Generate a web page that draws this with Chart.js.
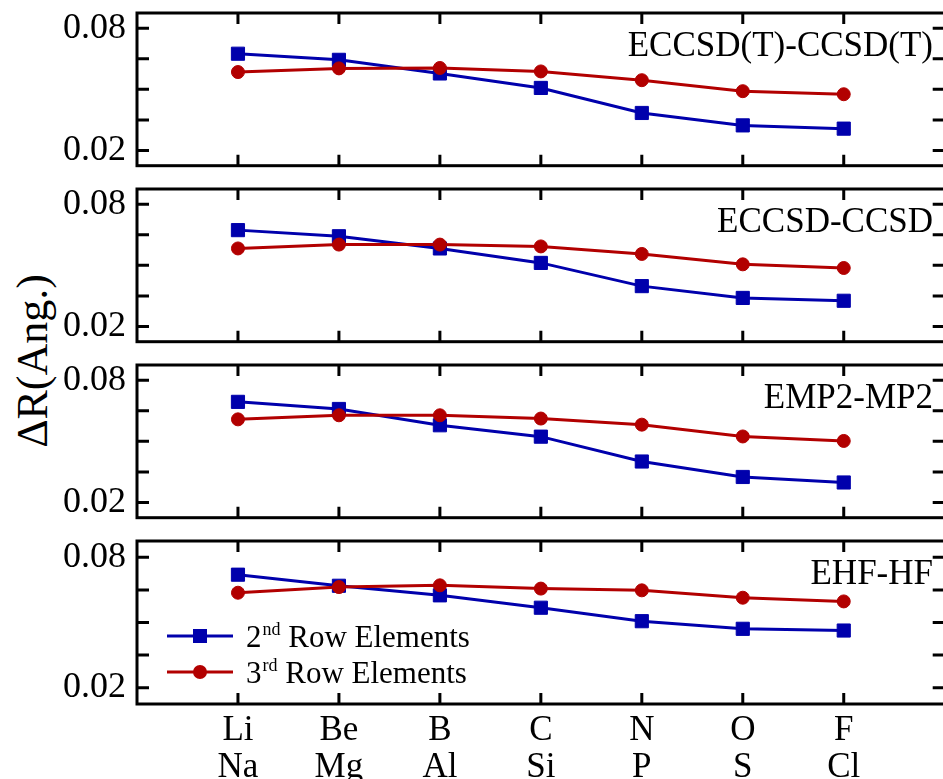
<!DOCTYPE html>
<html>
<head>
<meta charset="utf-8">
<script src="https://cdn.jsdelivr.net/npm/chart.js@4/dist/chart.umd.min.js"></script>
<style>
  html, body { margin: 0; padding: 0; background: #fff; overflow: hidden; width: 943px; height: 779px; }
  canvas { position: absolute; left: 0; }
  #ylab {
    position: absolute; left: 33px; top: 361px;
    transform: translate(-50%, -50%) rotate(-90deg);
    font: 44px 'Liberation Serif', 'Times New Roman', serif;
    white-space: nowrap; line-height: 1;
  }
</style>
</head>
<body>
<div id="ylab">ΔR(Ang.)</div>
<canvas id="p0" width="955" height="176" style="top:0px"></canvas>
<canvas id="p1" width="955" height="176" style="top:176px"></canvas>
<canvas id="p2" width="955" height="176" style="top:352px"></canvas>
<canvas id="p3" width="955" height="251" style="top:528px"></canvas>
<script>
// elements: 2nd row on top line of the tick label, 3rd row below
const row2Elements = ['Li', 'Be', 'B', 'C', 'N', 'O', 'F'];
const row3Elements = ['Na', 'Mg', 'Al', 'Si', 'P', 'S', 'Cl'];
const panelTitles = ['ECCSD(T)-CCSD(T)', 'ECCSD-CCSD', 'EMP2-MP2', 'EHF-HF'];
const yTicks = [0.02, 0.035, 0.05, 0.065, 0.08];

// delta R (Ang.) per method
const eccsdtRow2 = [0.0675, 0.0645, 0.0578, 0.0507, 0.0384, 0.0323, 0.0307];
const eccsdtRow3 = [0.0585, 0.0603, 0.0605, 0.0588, 0.0545, 0.0491, 0.0476];
const eccsdRow2 = [0.0673, 0.0643, 0.0583, 0.0512, 0.0398, 0.0340, 0.0326];
const eccsdRow3 = [0.0583, 0.0602, 0.0602, 0.0593, 0.0556, 0.0505, 0.0487];
const emp2Row2 = [0.0694, 0.0659, 0.0579, 0.0523, 0.0401, 0.0325, 0.0298];
const emp2Row3 = [0.0608, 0.0628, 0.0628, 0.0612, 0.0582, 0.0524, 0.0502];
const ehfRow2 = [0.0720, 0.0669, 0.0625, 0.0568, 0.0506, 0.0471, 0.0463];
const ehfRow3 = [0.0637, 0.0663, 0.0671, 0.0656, 0.0648, 0.0614, 0.0597];

const legendLabels = [['2', 'nd', ' Row Elements'], ['3', 'rd', ' Row Elements']];

const serif = "'Liberation Serif', 'Times New Roman', serif";
const blue = 'rgb(0, 0, 172)';
const red = 'rgb(178, 0, 0)';

// inward ticks, box, panel title and (last panel) legend
const framePlugin = {
    id: 'frame',
    afterDatasetsDraw(chart, args, opts) {
        const ctx = chart.ctx;
        const a = chart.chartArea;
        const x = chart.scales.x;
        const y = chart.scales.y;
        ctx.save();
        ctx.strokeStyle = '#000';
        ctx.lineWidth = 3;
        ctx.beginPath();
        yTicks.forEach(v => {
            const py = y.getPixelForValue(v);
            ctx.moveTo(a.left, py);
            ctx.lineTo(a.left + 12, py);
            ctx.moveTo(a.right, py);
            ctx.lineTo(a.right - 12, py);
        });
        row2Elements.forEach((e, i) => {
            const px = x.getPixelForValue(i + 1);
            ctx.moveTo(px, a.top);
            ctx.lineTo(px, a.top + 11);
            ctx.moveTo(px, a.bottom);
            ctx.lineTo(px, a.bottom - 11);
        });
        ctx.stroke();
        ctx.strokeRect(a.left, a.top, a.right - a.left, a.bottom - a.top);

        ctx.fillStyle = '#000';
        ctx.font = '35px ' + serif;
        ctx.textAlign = 'right';
        ctx.textBaseline = 'alphabetic';
        ctx.fillText(opts.title, 933, a.top + 43);

        if (opts.legend) {
            const rows = [
                {color: blue, style: 'rect', cy: a.top + 95},
                {color: red, style: 'circle', cy: a.top + 131}
            ];
            ctx.textAlign = 'left';
            rows.forEach((r, i) => {
                ctx.strokeStyle = r.color;
                ctx.fillStyle = r.color;
                ctx.lineWidth = 3;
                ctx.beginPath();
                ctx.moveTo(167, r.cy);
                ctx.lineTo(233, r.cy);
                ctx.stroke();
                if (r.style === 'rect') {
                    ctx.fillRect(200 - 7, r.cy - 7, 14, 14);
                } else {
                    ctx.beginPath();
                    ctx.arc(200, r.cy, 7, 0, Math.PI * 2);
                    ctx.fill();
                }
                const parts = legendLabels[i];
                const base = r.cy + 11;
                let tx = 246;
                ctx.fillStyle = '#000';
                ctx.font = '31px ' + serif;
                ctx.fillText(parts[0], tx, base);
                tx += ctx.measureText(parts[0]).width + 1;
                ctx.font = '18px ' + serif;
                ctx.fillText(parts[1], tx, base - 12);
                tx += ctx.measureText(parts[1]).width;
                ctx.font = '31px ' + serif;
                ctx.fillText(parts[2], tx, base);
            });
        }
        ctx.restore();
    }
};

function makePanel(id, title, row2, row3, last) {
    new Chart(document.getElementById(id), {
        type: 'line',
        data: {
            datasets: [{
                label: '2nd Row Elements',
                data: row2.map((v, i) => ({x: i + 1, y: v})),
                borderColor: blue,
                backgroundColor: blue,
                borderWidth: 3,
                pointStyle: 'rect',
                pointRadius: 9.3,
                pointBorderWidth: 1,
                tension: 0,
                order: 1
            }, {
                label: '3rd Row Elements',
                data: row3.map((v, i) => ({x: i + 1, y: v})),
                borderColor: red,
                backgroundColor: red,
                borderWidth: 3,
                pointStyle: 'circle',
                pointRadius: 6.5,
                pointBorderWidth: 1,
                tension: 0,
                order: 0
            }]
        },
        options: {
            responsive: false,
            animation: false,
            devicePixelRatio: 1,
            layout: {padding: {top: 13, right: 5, left: 0, bottom: 0}},
            scales: {
                x: {
                    type: 'linear',
                    min: 0,
                    max: 8,
                    grid: {display: false},
                    border: {display: false},
                    afterBuildTicks: s => { s.ticks = [0, 1, 2, 3, 4, 5, 6, 7, 8].map(v => ({value: v})); },
                    afterFit: s => {
                        s.height = last ? 75 : 0;
                        s.paddingLeft = 0;
                        s.paddingRight = 0;
                    },
                    ticks: {
                        display: last,
                        autoSkip: false,
                        maxRotation: 0,
                        padding: 0,
                        color: '#000',
                        font: {family: serif, size: 35, lineHeight: 1.07},
                        callback: v => (v >= 1 && v <= 7) ? [row2Elements[v - 1], row3Elements[v - 1]] : ''
                    }
                },
                y: {
                    min: 0.0125,
                    max: 0.0875,
                    grid: {display: false},
                    border: {display: false},
                    afterBuildTicks: s => { s.ticks = yTicks.map(v => ({value: v})); },
                    afterFit: s => {
                        s.width = 137;
                        s.paddingTop = 0;
                        s.paddingBottom = 0;
                    },
                    ticks: {
                        padding: 3,
                        color: '#000',
                        font: {family: serif, size: 36},
                        callback: v => (Math.abs(v - 0.02) < 1e-9 || Math.abs(v - 0.08) < 1e-9) ? v.toFixed(2) : ''
                    }
                }
            },
            plugins: {
                legend: {display: false},
                tooltip: {enabled: false},
                frame: {title: title, legend: last}
            }
        },
        plugins: [framePlugin]
    });
}

makePanel('p0', panelTitles[0], eccsdtRow2, eccsdtRow3, false);
makePanel('p1', panelTitles[1], eccsdRow2, eccsdRow3, false);
makePanel('p2', panelTitles[2], emp2Row2, emp2Row3, false);
makePanel('p3', panelTitles[3], ehfRow2, ehfRow3, true);
</script>
</body>
</html>
